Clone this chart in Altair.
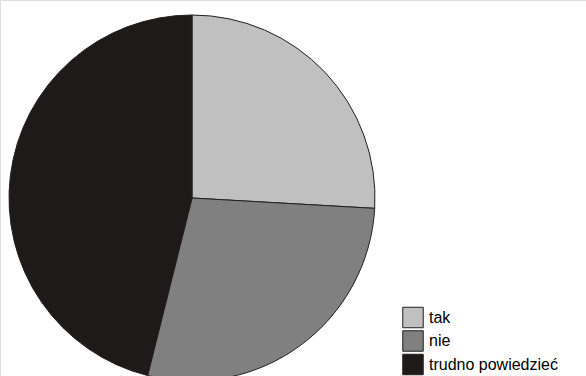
import altair as alt
import pandas as pd

categories = ["tak", "nie", "trudno powiedzieć"]
values = [25.9, 28.0, 46.1]
colors = ["#c0c0c0", "#808080", "#1e1a1a"]

df = pd.DataFrame({"kat": categories, "val": values, "ord": list(range(len(categories)))})

color = alt.Color(
    "kat:N",
    sort=categories,
    scale=alt.Scale(domain=categories, range=colors),
    legend=None,
)

pie = alt.Chart(df).mark_arc(
    radius=183, stroke="#231f20", strokeWidth=1
).encode(
    theta=alt.Theta("val:Q", stack=True),
    order=alt.Order("ord:Q"),
    color=color,
    x=alt.value(192),
    y=alt.value(198),
)

ypos = alt.Y("ord:Q", scale=alt.Scale(domain=[0, 2], range=[317.5, 364.5]), axis=None)

sym = alt.Chart(df).mark_square(
    size=420, stroke="#231f20", strokeWidth=1, opacity=1
).encode(
    x=alt.value(413),
    y=ypos,
    color=color,
)

lab = alt.Chart(df).mark_text(
    align="left", baseline="middle", font="Liberation Sans", fontSize=16, color="#000000"
).encode(
    x=alt.value(429),
    y=ypos,
    text="kat:N",
)

chart = alt.layer(pie, sym, lab).properties(
    width=586, height=376, padding=0, autosize="none"
).configure_view(stroke=None).configure(background="white")

chart.save("out.html", embed_options={"renderer": "svg", "actions": False})
